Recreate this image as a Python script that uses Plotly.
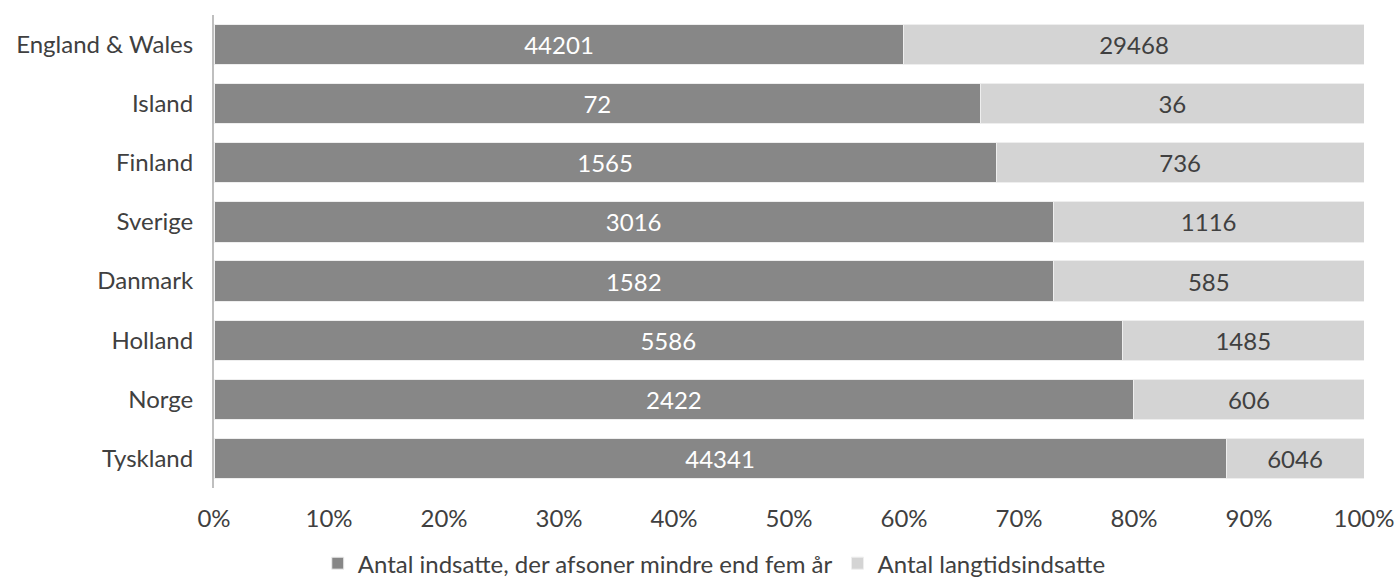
import plotly.graph_objects as go

# Countries, top to bottom
countries = ["England & Wales", "Island", "Finland", "Sverige", "Danmark", "Holland", "Norge", "Tyskland"]
# Inmates serving less than five years
short_term = [44201, 72, 1565, 3016, 1582, 5586, 2422, 44341]
# Long-term inmates
long_term = [29468, 36, 736, 1116, 585, 1485, 606, 6046]

series_names = ["Antal indsatte, der afsoner mindre end fem år", "Antal langtidsindsatte"]
tick_vals = [0, 0.1, 0.2, 0.3, 0.4, 0.5, 0.6, 0.7, 0.8, 0.9, 1.0]

totals = [s + l for s, l in zip(short_term, long_term)]
short_share = [s / t for s, t in zip(short_term, totals)]
long_share = [l / t for l, t in zip(long_term, totals)]

FONT = "Lato"
TEXT = "#404040"
FS = 24

fig = go.Figure()
fig.add_trace(go.Bar(
    y=countries, x=short_share, orientation="h", name=series_names[0],
    marker=dict(color="#878787", line=dict(color="#eeeeee", width=1)),
    text=[str(v) for v in short_term], textposition="inside",
    insidetextanchor="middle", textfont=dict(color="white", size=FS, family=FONT),
    hoverinfo="skip",
))
fig.add_trace(go.Bar(
    y=countries, x=long_share, orientation="h", name=series_names[1],
    marker=dict(color="#d4d4d4", line=dict(color="#eeeeee", width=1)),
    text=[str(v) for v in long_term], textposition="inside",
    insidetextanchor="middle", textfont=dict(color=TEXT, size=FS, family=FONT),
    hoverinfo="skip",
))

fig.update_layout(
    barmode="stack",
    bargap=0.32,
    width=1397, height=584,
    margin=dict(l=214, r=33, t=15, b=96, autoexpand=False),
    paper_bgcolor="white", plot_bgcolor="white",
    font=dict(family=FONT, size=FS, color=TEXT),
    uniformtext=dict(minsize=10, mode="show"),
    legend=dict(
        orientation="h", x=0.435, xanchor="center",
        yref="container", y=0.035, yanchor="middle",
        font=dict(size=FS, color=TEXT, family=FONT),
        traceorder="normal",
    ),
    showlegend=True,
)
fig.update_xaxes(
    range=[0, 1], tickvals=tick_vals, tickformat=".0%",
    showgrid=False, zeroline=False, showline=False,
    ticks="outside", ticklen=9, tickcolor="rgba(0,0,0,0)",
    automargin=False,
    tickfont=dict(size=FS, color=TEXT, family=FONT),
)
fig.update_yaxes(
    categoryorder="array", categoryarray=countries, autorange="reversed",
    showgrid=False, zeroline=False,
    showline=True, linecolor="#bfbfbf", linewidth=2,
    ticks="outside", ticklen=14, tickcolor="rgba(0,0,0,0)",
    automargin=False,
    tickfont=dict(size=FS, color=TEXT, family=FONT),
)

fig.write_html("out.html")
